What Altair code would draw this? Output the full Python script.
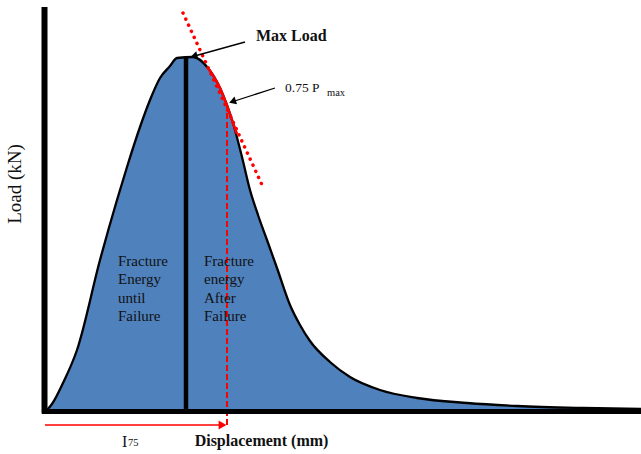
import altair as alt
import pandas as pd

# ---- data (arbitrary displacement / load units) ----
disp = [2, 7, 18, 32, 55, 72, 82, 95, 105, 115, 125, 132, 148, 163, 175, 188,
        197, 205, 213, 222, 232, 245, 255, 265, 285, 305, 335, 372, 422, 472, 538, 596]
load = [0, 6, 27, 60, 150, 210, 243, 283, 310, 332, 344, 352, 353, 342, 322, 287,
        253, 220, 195, 170, 142, 105, 85, 69, 48, 33, 20, 12, 7, 4, 2, 1]

peak_disp = 141
peak_load = 353
p75_disp = 182
p75_load = 307
hl_disp = [163, 175, 188, 192]
hl_load = [342, 322, 287, 276]
tangent_disp = [138, 218]
tangent_load = [397, 223]

left_words = ["Fracture", "Energy", "until", "Failure"]
right_words = ["Fracture", "energy", "After", "Failure"]
word_loads = [149, 131, 112, 94]

FONT = "Liberation Serif"
BLUE = "#4F81BD"
RED = "#FF0000"

XS = alt.Scale(domain=[-45, 596], nice=False, zero=False)
YS = alt.Scale(domain=[-44, 410], nice=False, zero=False)


def X(f="x"):
    return alt.X(f"{f}:Q", scale=XS, axis=None)


def Y(f="y"):
    return alt.Y(f"{f}:Q", scale=YS, axis=None)


curve = pd.DataFrame({"x": disp, "y": load})

area = alt.Chart(curve).mark_area(interpolate="monotone", color=BLUE, opacity=1).encode(
    x=X(), y=Y())
outline = alt.Chart(curve).mark_line(interpolate="monotone", color="black", strokeWidth=2.3).encode(
    x=X(), y=Y())

peak = alt.Chart(pd.DataFrame({"x": [peak_disp], "y": [0], "y2": [peak_load]})).mark_rule(
    color="black", strokeWidth=4.5).encode(x=X(), y=Y(), y2="y2:Q")

dashed = alt.Chart(pd.DataFrame({"x": [p75_disp], "y": [-15], "y2": [p75_load]})).mark_rule(
    color=RED, strokeWidth=2, strokeDash=[6, 3]).encode(x=X(), y=Y(), y2="y2:Q")

highlight = alt.Chart(pd.DataFrame({"x": hl_disp, "y": hl_load})).mark_line(
    interpolate="monotone", color=RED, strokeWidth=2.6).encode(x=X(), y=Y())

tangent = alt.Chart(pd.DataFrame({"x": [tangent_disp[0]], "x2": [tangent_disp[1]],
                                  "y": [tangent_load[0]], "y2": [tangent_load[1]]})).mark_rule(
    color=RED, strokeWidth=3.5, strokeDash=[0.1, 6.6], strokeCap="round").encode(
    x=X(), x2="x2:Q", y=Y(), y2="y2:Q")

axes = alt.Chart(pd.DataFrame({
    "x": [-0.5, -3], "x2": [-0.5, 600], "y": [-3.5, -1.5], "y2": [403, -1.5], "w": [6, 5]
})).mark_rule(color="black").encode(
    x=X(), x2="x2:Q", y=Y(), y2="y2:Q",
    strokeWidth=alt.StrokeWidth("w:Q", scale=None, legend=None))

# I75 arrow (red) at bottom
i75_line = alt.Chart(pd.DataFrame({"x": [0], "x2": [p75_disp - 4], "y": [-15]})).mark_rule(
    color=RED, strokeWidth=1.5).encode(x=X(), x2="x2:Q", y=Y())
i75_head = alt.Chart(pd.DataFrame({"x": [p75_disp - 4.5], "y": [-15]})).mark_point(
    shape="triangle-right", filled=True, color=RED, opacity=1, size=81).encode(x=X(), y=Y())

# black annotation arrows
arrows = alt.Chart(pd.DataFrame({
    "x": [200, 230], "x2": [146, 185], "y": [368, 322], "y2": [353, 307.5]
})).mark_rule(color="black", strokeWidth=1.3).encode(x=X(), x2="x2:Q", y=Y(), y2="y2:Q")
heads = alt.Chart(pd.DataFrame({
    "x": [148.9, 187.5], "y": [354, 308.5], "a": [165, 161]
})).mark_point(shape="triangle-right", filled=True, color="black", opacity=1, size=64).encode(
    x=X(), y=Y(), angle=alt.Angle("a:Q", scale=None))


# text
def txt(df, size, weight="normal", align="left", angle=0, color="#111111"):
    return alt.Chart(df).mark_text(font=FONT, fontSize=size, fontWeight=weight, align=align,
                                   baseline="middle", angle=angle, color=color).encode(
        x=X(), y=Y(), text="t:N")


words = pd.DataFrame({"x": [73] * 4 + [159] * 4,
                      "y": word_loads + word_loads,
                      "t": left_words + right_words})

t_words = txt(words, 15)
t_max = txt(pd.DataFrame({"x": [211], "y": [374], "t": ["Max Load"]}), 16, "bold")
t_p = txt(pd.DataFrame({"x": [240], "y": [322], "t": ["0.75 P"]}), 13.5)
t_sub = txt(pd.DataFrame({"x": [282, 83], "y": [317, -33], "t": ["max", "75"]}), 10.5)
t_I = txt(pd.DataFrame({"x": [77], "y": [-31.5], "t": ["I"]}), 16)
t_disp = txt(pd.DataFrame({"x": [216.5], "y": [-31], "t": ["Displacement (mm)"]}), 16, "bold", "center")
t_load = txt(pd.DataFrame({"x": [-30], "y": [226], "t": ["Load (kN)"]}), 19, "normal", "center", 270)

chart = alt.layer(
    area, outline, peak, dashed, highlight, tangent, axes, i75_line, i75_head,
    arrows, heads, t_words, t_max, t_p, t_sub, t_I, t_disp, t_load
).properties(
    width=641, height=454, padding=0,
    autosize=alt.AutoSizeParams(type="none"),
    background="white"
).configure_view(stroke=None)

chart.save("out.html", embed_options={"renderer": "svg", "actions": False})
